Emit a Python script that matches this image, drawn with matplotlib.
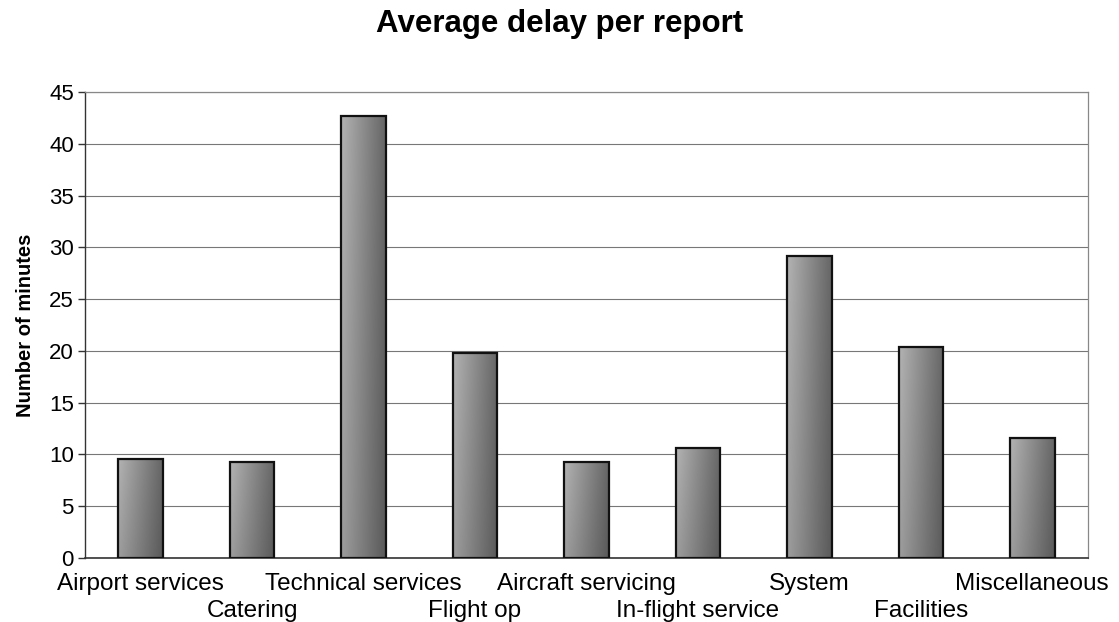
"""
Bar chart of average delay per report, by delay category.
"""

import matplotlib
matplotlib.use("Agg")
import matplotlib.pyplot as plt
import numpy as np

categories = [
    "Airport services", "Catering", "Technical services", "Flight op",
    "Aircraft servicing", "In-flight service", "System", "Facilities",
    "Miscellaneous",
]
avg_delay = [9.6, 9.3, 42.7, 19.8, 9.3, 10.6, 29.2, 20.4, 11.6]
y_ticks = [0, 5, 10, 15, 20, 25, 30, 35, 40, 45]

plt.rcParams["font.family"] = ["Liberation Sans", "DejaVu Sans"]

fig = plt.figure(figsize=(11.19, 6.22), dpi=100)
ax = fig.add_axes([85 / 1119, 64 / 622, 1003 / 1119, 466 / 622])

x = np.arange(len(categories))
bars = ax.bar(x, avg_delay, width=0.4, color="none", edgecolor="#111111",
              linewidth=1.6, zorder=3)

# shade each bar with a left-to-right gray gradient clipped to the bar outline
grad = np.linspace(0.70, 0.40, 64)
grad = np.tile(grad, (32, 1))
shade = np.linspace(1.0, 0.88, 32)[:, None]
img = grad * shade
for b in bars:
    x0, y0 = b.get_x(), b.get_y()
    w, h = b.get_width(), b.get_height()
    im = ax.imshow(img, cmap="gray", vmin=0, vmax=1, aspect="auto",
                   extent=[x0, x0 + w, y0, y0 + h], origin="upper", zorder=2,
                   interpolation="bilinear")
    im.set_clip_path(b)

ax.set_xlim(-0.5, len(categories) - 0.5)
ax.set_ylim(0, 45)
ax.set_yticks(y_ticks)
ax.yaxis.grid(True, color="#777777", linewidth=0.8, zorder=0)
ax.set_axisbelow(True)

for side in ["top", "right"]:
    ax.spines[side].set_color("#888888")
    ax.spines[side].set_linewidth(0.9)
ax.spines["left"].set_color("#333333")
ax.spines["bottom"].set_color("#333333")
ax.spines["left"].set_linewidth(1.0)
ax.spines["bottom"].set_linewidth(1.2)

ax.tick_params(axis="y", labelsize=16, length=5, width=1.0, color="#333333", pad=3)
ax.set_xticks([])

# category names alternate between two rows below the axis
for i, name in enumerate(categories):
    yoff = -0.056 if i % 2 == 0 else -0.114
    ax.text(x[i], yoff, name, transform=ax.get_xaxis_transform(),
            ha="center", va="center", fontsize=17.5)

ax.set_ylabel("Number of minutes", fontsize=14.5, fontweight="bold", labelpad=10)
fig.suptitle("Average delay per report", fontsize=22.5, fontweight="bold", y=0.985)

fig.savefig("out.png", dpi=100)
